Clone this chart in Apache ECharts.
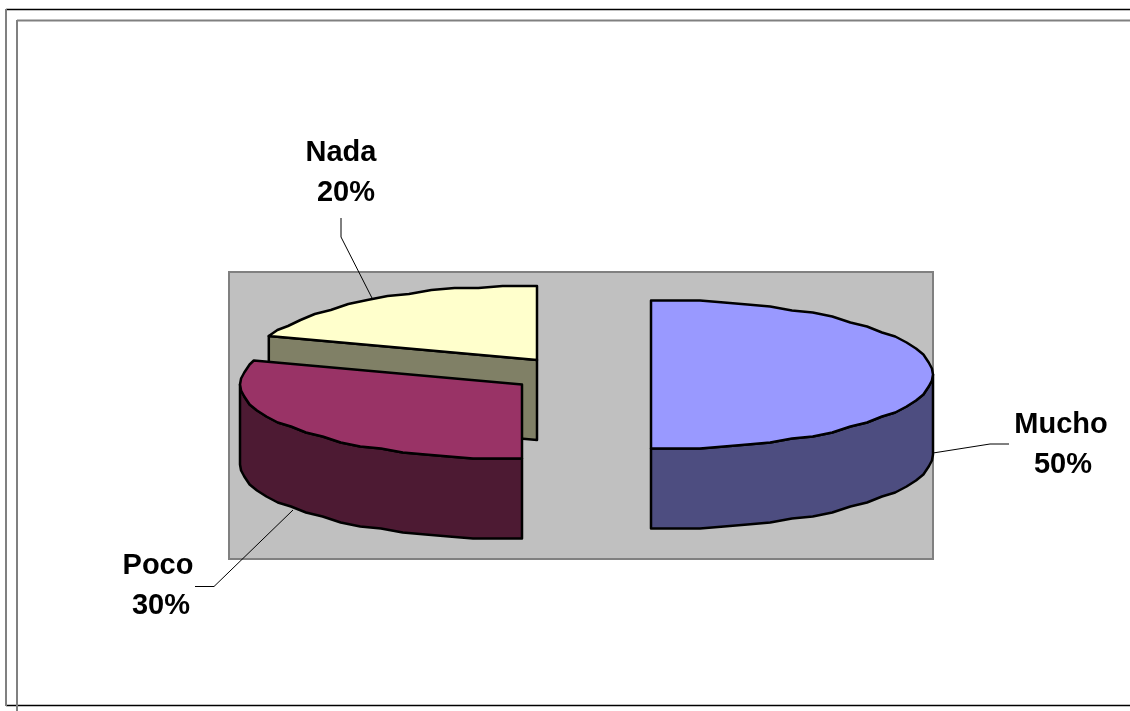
<!DOCTYPE html>
<html>
<head>
<meta charset="utf-8">
<style>
  html, body { margin: 0; padding: 0; background: #fff; }
  #chart { width: 1130px; height: 711px; }
</style>
<script src="https://cdn.jsdelivr.net/npm/echarts@6/dist/echarts.min.js"></script>
</head>
<body>
<div id="chart"></div>
<script>
const categories = ['Mucho', 'Poco', 'Nada']
const values = [50, 30, 20]

const topColors = ['#9999FF', '#993366', '#FFFFCC']
const wallColors = ['#4D4D80', '#4D1A33', '#808066']

// exploded pie: each slice has its own centre, back slices are drawn first
const centers = [[651, 374.5], [522, 384.5], [537, 360]]
const drawOrder = [3, 2, 1]
const RX = 282
const RY = 74.5
const DEPTH = 80
const STEP = 5
const GRID_Y = 2

const labelPos = [
  { name: [1061, 425], pct: [1063, 465] },
  { name: [158, 566], pct: [161, 606] },
  { name: [341, 153], pct: [346, 193] }
]
const leaders = [
  [[933, 453], [990, 444], [1009, 444]],
  [[293, 510], [214, 586.5], [195, 586.5]],
  [[372, 298], [341, 237], [341, 218]]
]

const total = values.reduce((a, b) => a + b, 0)

// angle in degrees, clockwise from the top. y is snapped so the rim looks
// like the coarse polygon outline of the old office chart
function rim(c, deg, dy) {
  const a = deg * Math.PI / 180
  const x = RX * Math.sin(a)
  const y = Math.round(-RY * Math.cos(a) / GRID_Y) * GRID_Y
  return [c[0] + x, c[1] + y + dy]
}

function arcPoints(c, from, to, dy) {
  const pts = []
  for (let d = from; d < to - 0.001; d += STEP) {
    pts.push(rim(c, d, dy))
  }
  pts.push(rim(c, to, dy))
  return pts
}

function face(points, fill, z2) {
  return {
    type: 'polygon',
    z2: z2,
    shape: { points: points },
    style: { fill: fill, stroke: '#000', lineWidth: 2.5, lineJoin: 'round' }
  }
}

function label(text, pos, z2) {
  return {
    type: 'text',
    z2: z2,
    x: pos[0],
    y: pos[1],
    style: {
      text: text,
      fill: '#000',
      font: 'bold 29px "Liberation Sans", Arial, sans-serif',
      textAlign: 'center',
      textVerticalAlign: 'middle'
    }
  }
}

function renderSlice(params, api) {
  const i = params.dataIndex
  const before = values.slice(0, i).reduce((a, b) => a + b, 0)
  const start = before / total * 360
  const end = (before + api.value(1)) / total * 360
  const c = centers[i]
  const z = drawOrder[i] * 10
  const children = []

  children.push({
    type: 'polyline',
    z2: 1,
    shape: { points: leaders[i] },
    style: { fill: null, stroke: '#000', lineWidth: 1 }
  })

  // outer wall, only the front half of the pie can be seen
  const wallFrom = Math.max(start, 90)
  const wallTo = Math.min(end, 270)
  if (wallTo > wallFrom) {
    const upper = arcPoints(c, wallFrom, wallTo, 0)
    const lower = arcPoints(c, wallFrom, wallTo, DEPTH).reverse()
    children.push(face(upper.concat(lower), wallColors[i], z))
  }

  // cut face, for slices pulled out of the pie
  const sinStart = Math.sin(start * Math.PI / 180)
  if (sinStart < -0.001) {
    const p = rim(c, start, 0)
    children.push(face([p, c, [c[0], c[1] + DEPTH], [p[0], p[1] + DEPTH]], wallColors[i], z))
  }

  const top = arcPoints(c, start, end, 0)
  top.push(c)
  children.push(face(top, topColors[i], z + 1))

  children.push(label(categories[i], labelPos[i].name, 100))
  children.push(label(Math.round(api.value(1) / total * 100) + '%', labelPos[i].pct, 100))

  return { type: 'group', children: children }
}

const chart = echarts.init(document.getElementById('chart'), null, { renderer: 'canvas' })
chart.setOption({
  animation: false,
  backgroundColor: '#fff',
  graphic: [
    // page frame and plot area
    { type: 'line', z: 0, shape: { x1: 6, y1: 9.5, x2: 1130, y2: 9.5 }, style: { stroke: '#000', lineWidth: 1.5 } },
    { type: 'line', z: 0, shape: { x1: 6, y1: 705.5, x2: 1130, y2: 705.5 }, style: { stroke: '#000', lineWidth: 1.5 } },
    { type: 'line', z: 0, shape: { x1: 6, y1: 9, x2: 6, y2: 706 }, style: { stroke: '#808080', lineWidth: 2 } },
    { type: 'line', z: 0, shape: { x1: 17, y1: 20.5, x2: 1130, y2: 20.5 }, style: { stroke: '#808080', lineWidth: 2 } },
    { type: 'line', z: 0, shape: { x1: 17, y1: 20, x2: 17, y2: 711 }, style: { stroke: '#808080', lineWidth: 2 } },
    {
      type: 'rect',
      z: 0,
      shape: { x: 229, y: 272, width: 704, height: 287 },
      style: { fill: '#C0C0C0', stroke: '#808080', lineWidth: 2 }
    }
  ],
  series: [
    {
      type: 'custom',
      coordinateSystem: 'none',
      silent: true,
      renderItem: renderSlice,
      data: categories.map((name, i) => [i, values[i]])
    }
  ]
})
</script>
</body>
</html>
